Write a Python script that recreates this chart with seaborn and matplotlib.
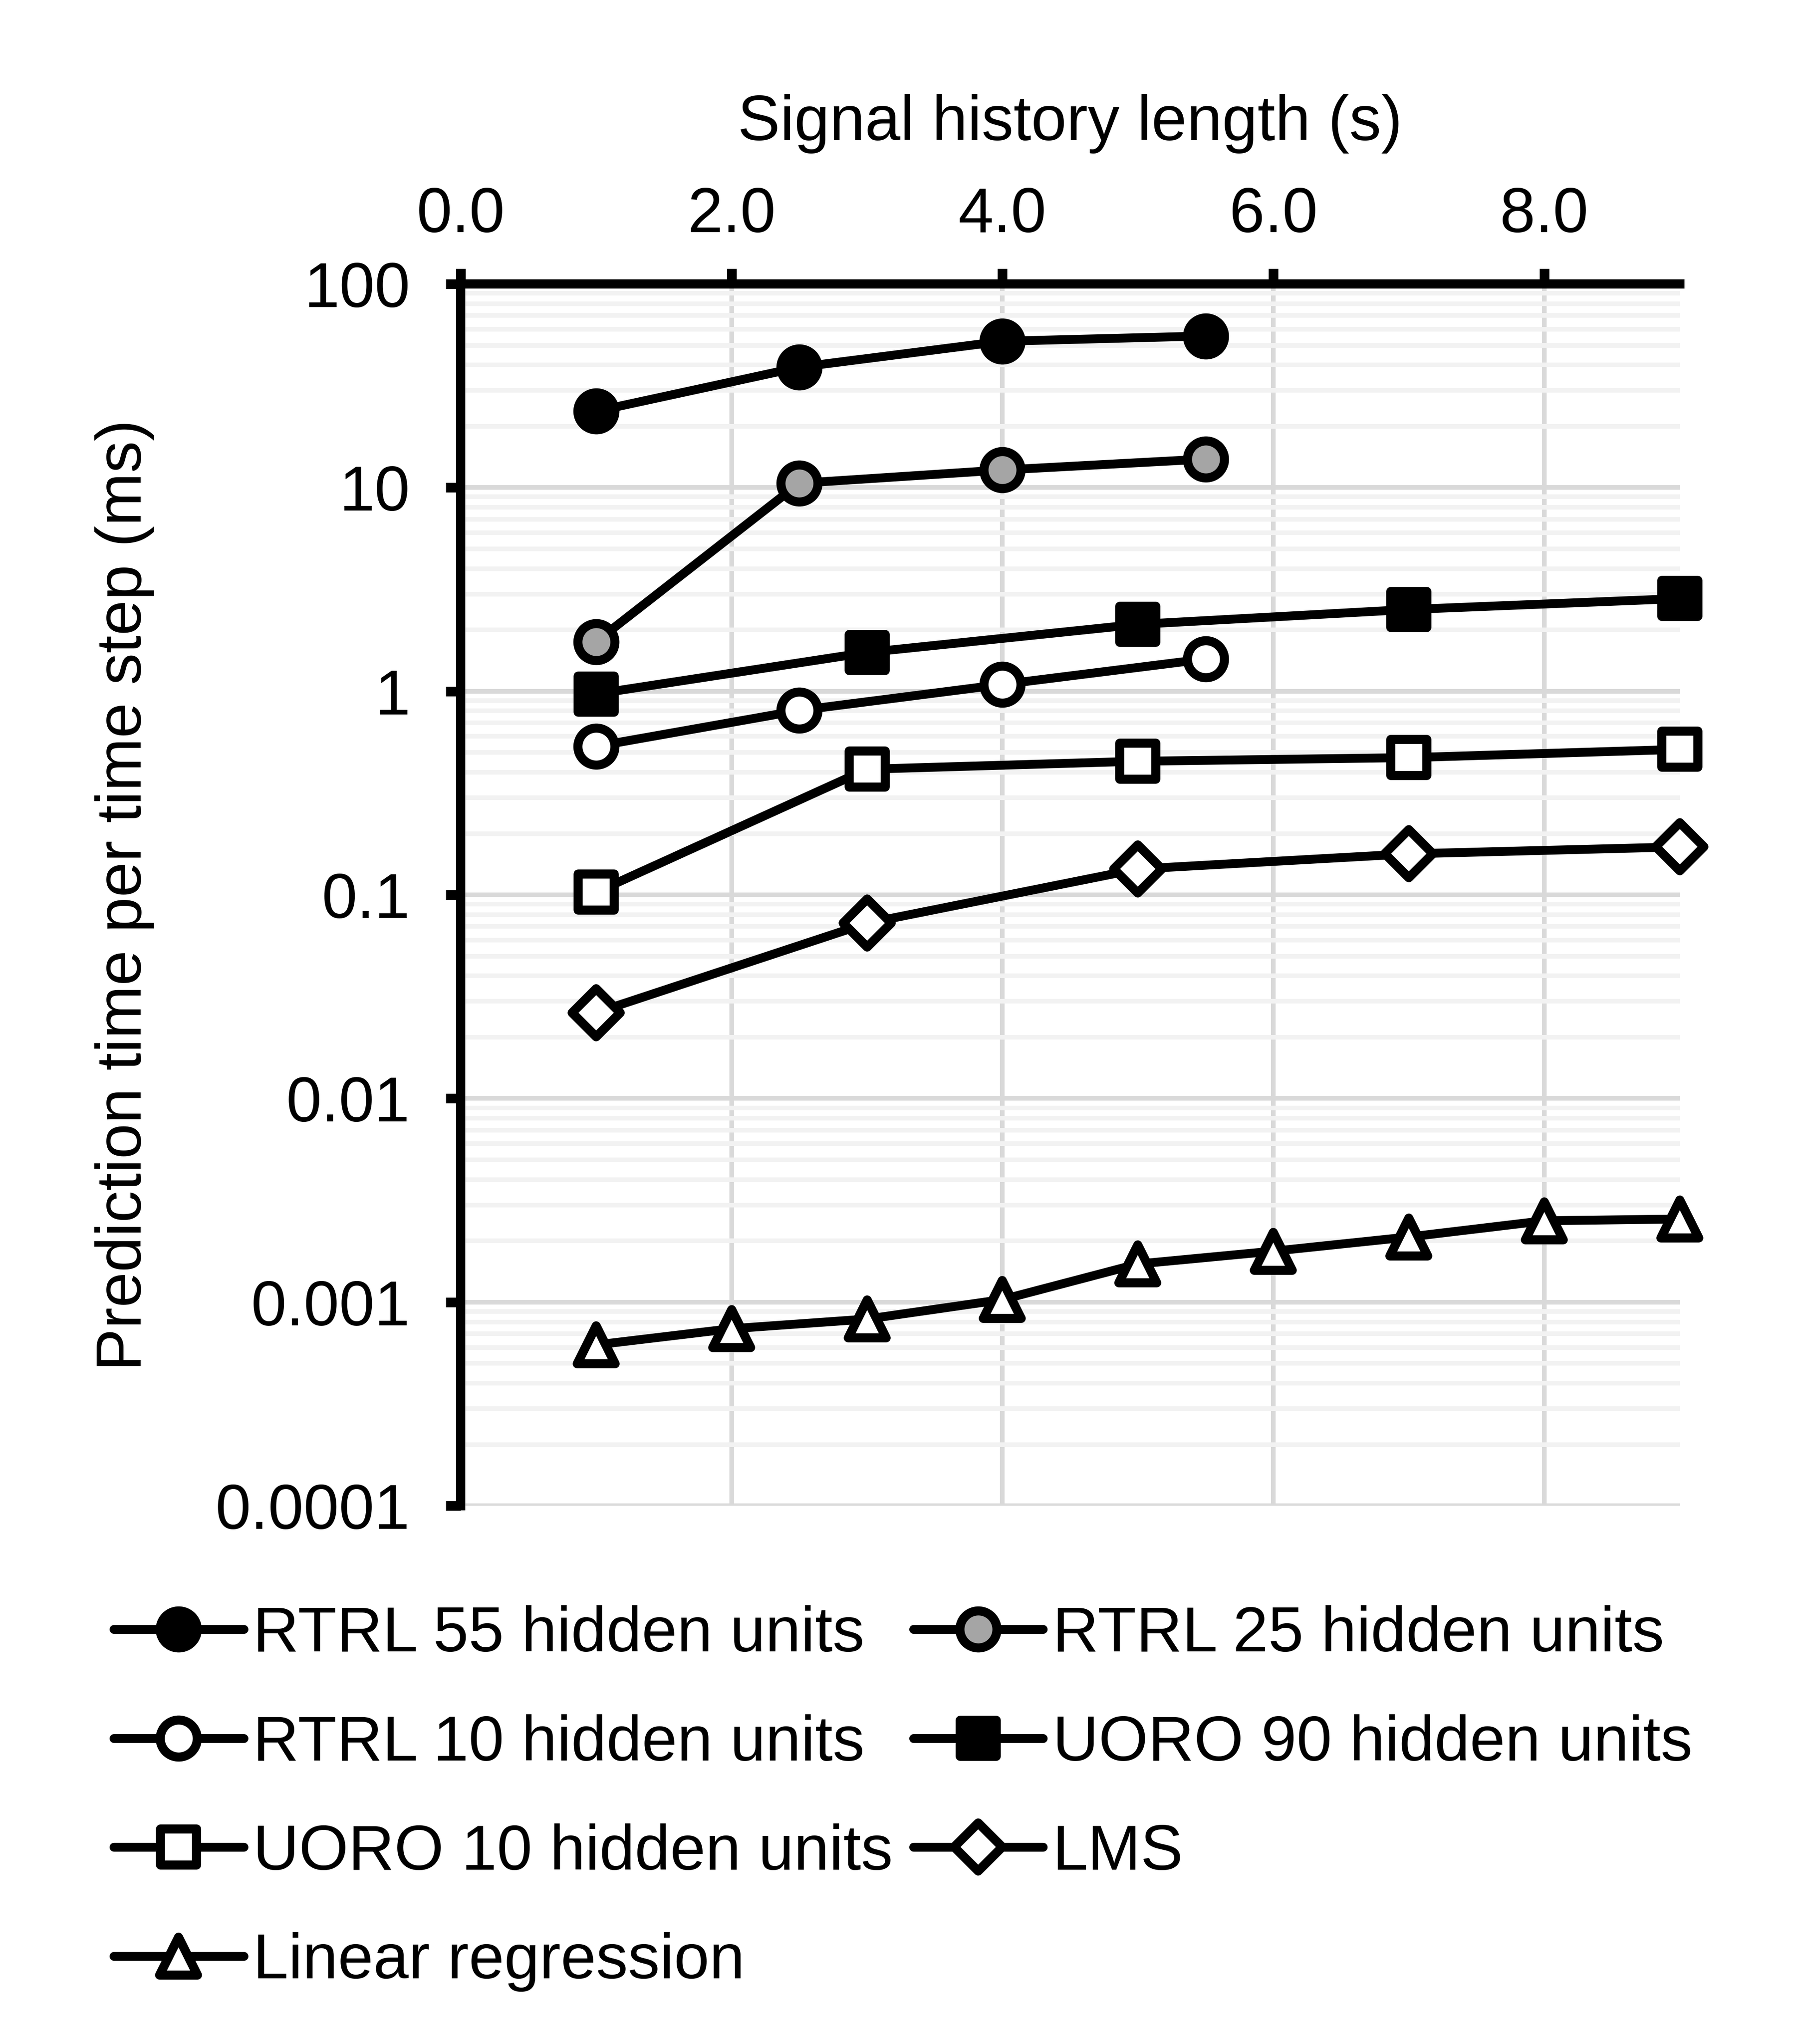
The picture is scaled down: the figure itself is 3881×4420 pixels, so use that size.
import numpy as np
import matplotlib
matplotlib.use("Agg")
import matplotlib.pyplot as plt
from matplotlib.markers import MarkerStyle
from matplotlib.ticker import FixedLocator, FixedFormatter, LogLocator, NullFormatter
import seaborn as sns

# ---------------- data ----------------
x_rtrl = [1.0, 2.5, 4.0, 5.5]
rtrl55 = [23.7, 39.0, 52.3, 55.5]
rtrl25 = [1.75, 10.5, 12.2, 13.8]
rtrl10 = [0.536, 0.805, 1.08, 1.44]

x_uoro = [1.0, 3.0, 5.0, 7.0, 9.0]
uoro90 = [0.97, 1.55, 2.13, 2.52, 2.85]
uoro10 = [0.103, 0.414, 0.453, 0.472, 0.518]
lms = [0.0264, 0.0726, 0.134, 0.159, 0.172]

x_lr = [1.0, 2.0, 3.0, 4.0, 5.0, 6.0, 7.0, 8.0, 9.0]
linreg = [0.000617, 0.000741, 0.000826, 0.00103, 0.00154, 0.00178, 0.00209, 0.00251, 0.00256]

series_labels = ["RTRL 55 hidden units", "RTRL 25 hidden units", "RTRL 10 hidden units",
                 "UORO 90 hidden units", "UORO 10 hidden units", "LMS", "Linear regression"]

x_ticks = [0, 2, 4, 6, 8]
x_tick_labels = ["0.0", "2.0", "4.0", "6.0", "8.0"]
y_ticks = [0.0001, 0.001, 0.01, 0.1, 1, 10, 100]
y_tick_labels = ["0.0001", "0.001", "0.01", "0.1", "1", "10", "100"]

x_label = "Signal history length (s)"
y_label = "Prediction time per time step (ms)"

# ---------------- style ----------------
sns.set_theme(style="white")
plt.rcParams["font.family"] = ["Liberation Sans", "DejaVu Sans"]

DPI = 300
FS = 33
LW = 4.6
MEW = 4.7
fig = plt.figure(figsize=(3881 / DPI, 4420 / DPI), dpi=DPI)
fig.patch.set_facecolor("white")
ax = fig.add_axes([0.2566, 0.2633, 0.9358 - 0.2566, 0.8611 - 0.2633])
ax.set_facecolor("white")
ax.set_yscale("log")

specs = [
    (x_rtrl, rtrl55, "o", "black", 19.2),
    (x_rtrl, rtrl25, "o", "#a5a5a5", 19.2),
    (x_rtrl, rtrl10, "o", "white", 19.2),
    (x_uoro, uoro90, "s", "black", 18.7),
    (x_uoro, uoro10, "s", "white", 18.7),
    (x_uoro, lms, "D", "white", 17.5),
    (x_lr, linreg, "^", "white", 19.5),
]

handles = []
for (xs, ys, mk, fc, ms), lab in zip(specs, series_labels):
    n_before = len(ax.lines)
    sns.lineplot(x=xs, y=ys, ax=ax, estimator=None, sort=False, color="black",
                 linewidth=LW, marker=MarkerStyle(mk, joinstyle="round"), markersize=ms,
                 markerfacecolor=fc, markeredgecolor="black", markeredgewidth=MEW,
                 legend=False, zorder=4, clip_on=False)
    line = ax.lines[n_before]
    line.set_solid_joinstyle("round")
    line.set_solid_capstyle("round")
    line.set_label(lab)
    handles.append(line)

# ---------------- axes ----------------
ax.set_xlim(0, 9)
ax.set_ylim(1e-4, 100)

ax.xaxis.tick_top()
ax.xaxis.set_label_position("top")
ax.xaxis.set_major_locator(FixedLocator(x_ticks))
ax.xaxis.set_major_formatter(FixedFormatter(x_tick_labels))
ax.yaxis.set_major_locator(FixedLocator(y_ticks))
ax.yaxis.set_major_formatter(FixedFormatter(y_tick_labels))
ax.yaxis.set_minor_locator(LogLocator(base=10, subs=np.arange(2, 10)))
ax.yaxis.set_minor_formatter(NullFormatter())

ax.set_axisbelow(True)
ax.yaxis.grid(True, which="minor", color="#f2f2f2", linewidth=2.4, zorder=0)
ax.yaxis.grid(True, which="major", color="#d9d9d9", linewidth=2.4, zorder=1)
ax.xaxis.grid(True, which="major", color="#d9d9d9", linewidth=2.4, zorder=1)

ax.tick_params(axis="y", which="major", left=True, right=False, direction="out",
               length=7.7, width=5.0, color="black", pad=18.5, labelsize=FS, labelcolor="black")
ax.tick_params(axis="y", which="minor", left=False, right=False, length=0)
ax.tick_params(axis="x", which="major", top=True, bottom=False, labeltop=True, labelbottom=False,
               direction="out", length=8.0, width=5.0, color="black", pad=12, labelsize=FS,
               labelcolor="black")

for side in ["right", "bottom"]:
    ax.spines[side].set_visible(False)
for side in ["top", "left"]:
    ax.spines[side].set_visible(True)
    ax.spines[side].set_color("black")
    ax.spines[side].set_linewidth(4.8)
    ax.spines[side].set_zorder(3)

ax.set_xlabel(x_label, fontsize=FS, color="black")
ax.xaxis.set_label_coords(0.5, 1.1177)
ax.xaxis.label.set_verticalalignment("baseline")
ax.set_ylabel(y_label, fontsize=FS, color="black")
ax.yaxis.set_label_coords(-0.2621, 0.5)
ax.yaxis.label.set_verticalalignment("baseline")

# ---------------- legend (row-major order in 2 columns) ----------------
order = [0, 2, 4, 6, 1, 3, 5]
fig.legend([handles[i] for i in order], [series_labels[i] for i in order],
           loc="upper left", bbox_to_anchor=(0.0634, 0.2146), ncol=2, frameon=False,
           fontsize=FS, handlelength=2.04, handletextpad=0.15, columnspacing=0.32,
           labelspacing=0.775, borderpad=0, borderaxespad=0, numpoints=1,
           labelcolor="black")

fig.savefig("out.png", dpi=DPI, facecolor="white")
